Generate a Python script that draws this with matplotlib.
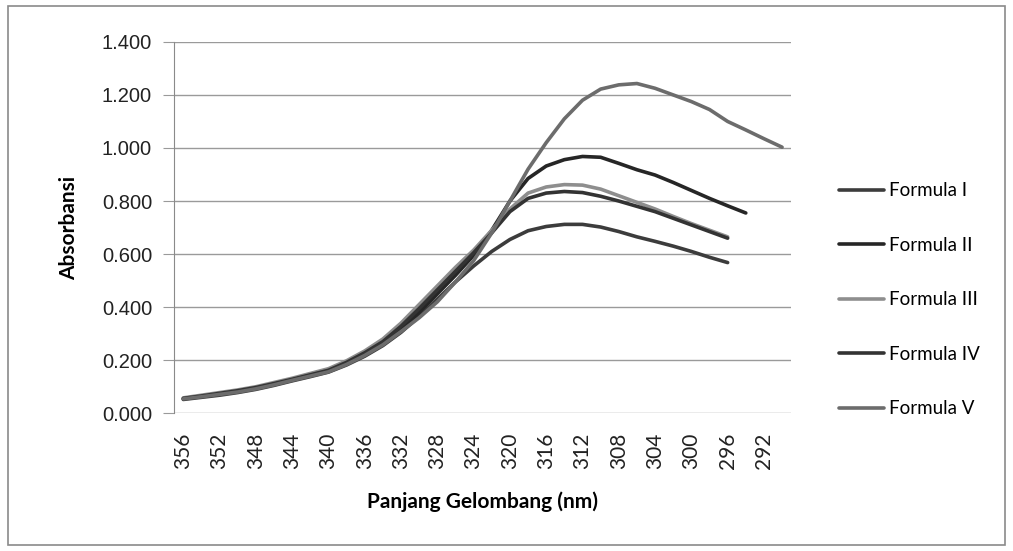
import matplotlib.pyplot as plt
from matplotlib.patches import Rectangle

# wavelengths (nm), every 2 nm
wavelengths = list(range(356, 288, -2))

formula_1 = [0.052, 0.060, 0.068, 0.078, 0.090, 0.105, 0.122, 0.138, 0.155, 0.182,
             0.215, 0.255, 0.305, 0.365, 0.430, 0.495, 0.555, 0.610, 0.655, 0.688,
             0.704, 0.712, 0.712, 0.702, 0.685, 0.665, 0.648, 0.630, 0.610, 0.588,
             0.568]
formula_2 = [0.055, 0.063, 0.072, 0.082, 0.094, 0.110, 0.127, 0.143, 0.160, 0.188,
             0.222, 0.262, 0.315, 0.380, 0.450, 0.520, 0.595, 0.690, 0.800, 0.885,
             0.932, 0.956, 0.968, 0.965, 0.942, 0.918, 0.898, 0.870, 0.840, 0.810,
             0.782, 0.755]
formula_3 = [0.058, 0.068, 0.078, 0.088, 0.100, 0.116, 0.132, 0.150, 0.168, 0.198,
             0.235, 0.280, 0.340, 0.410, 0.480, 0.550, 0.615, 0.690, 0.770, 0.830,
             0.853, 0.862, 0.860, 0.845, 0.820, 0.795, 0.770, 0.742, 0.715, 0.690,
             0.665]
formula_4 = [0.056, 0.065, 0.075, 0.085, 0.097, 0.112, 0.128, 0.145, 0.162, 0.192,
             0.228, 0.270, 0.328, 0.395, 0.465, 0.535, 0.605, 0.680, 0.760, 0.810,
             0.830, 0.836, 0.832, 0.818, 0.800, 0.780, 0.760, 0.735, 0.710, 0.685,
             0.660]
formula_5 = [0.054, 0.062, 0.071, 0.080, 0.092, 0.107, 0.124, 0.140, 0.156, 0.184,
             0.218, 0.258, 0.308, 0.360, 0.420, 0.495, 0.575, 0.680, 0.800, 0.920,
             1.020, 1.110, 1.180, 1.222, 1.238, 1.243, 1.225, 1.200, 1.175, 1.145,
             1.100, 1.068, 1.035, 1.003]

series = [("Formula I", formula_1, "#3c3c3c"),
          ("Formula II", formula_2, "#262626"),
          ("Formula III", formula_3, "#8e8e8e"),
          ("Formula IV", formula_4, "#333333"),
          ("Formula V", formula_5, "#6c6c6c")]

fig = plt.figure(figsize=(10.13, 5.51), dpi=100)
fig.patches.append(Rectangle((0.008, 0.01), 0.984, 0.98, transform=fig.transFigure,
                             fill=False, edgecolor="#8a8a8a", linewidth=1.2))
ax = fig.add_axes([0.172, 0.250, 0.609, 0.674])

for name, vals, col in series:
    ax.plot(range(len(vals)), vals, color=col, linewidth=2.6, label=name,
            solid_capstyle="round", solid_joinstyle="round")

ax.set_xlim(-0.5, len(wavelengths) - 0.5)
ax.set_ylim(0, 1.4)
ax.set_yticks([i * 0.2 for i in range(8)])
ax.set_yticklabels([f"{i * 0.2:.3f}" for i in range(8)], fontsize=14.5,
                   family="Liberation Sans", color="#222222")
ax.set_xticks(range(0, len(wavelengths), 2))
ax.set_xticklabels([str(w) for w in wavelengths[::2]], rotation=90, fontsize=15,
                   family="Lato", color="#222222")
ax.tick_params(axis="x", length=0, pad=14)
ax.tick_params(axis="y", length=8, color="#9a9a9a", pad=8)
ax.grid(axis="y", color="#9a9a9a", linewidth=1)
ax.set_axisbelow(True)
for s in ["top", "right", "bottom"]:
    ax.spines[s].set_visible(False)
ax.spines["left"].set_color("#8a8a8a")

ax.set_xlabel("Panjang Gelombang (nm)", fontsize=15, fontweight="bold",
              family="Lato", labelpad=16)
ax.set_ylabel("Absorbansi", fontsize=15, fontweight="bold", family="Lato",
              labelpad=16)

ax.legend(loc="center left", bbox_to_anchor=(1.05, 0.305), frameon=False,
          prop={"family": "Lato", "size": 13.5}, handlelength=2.4,
          handletextpad=0.3, labelspacing=2.0)

plt.savefig("out.png", dpi=100)
